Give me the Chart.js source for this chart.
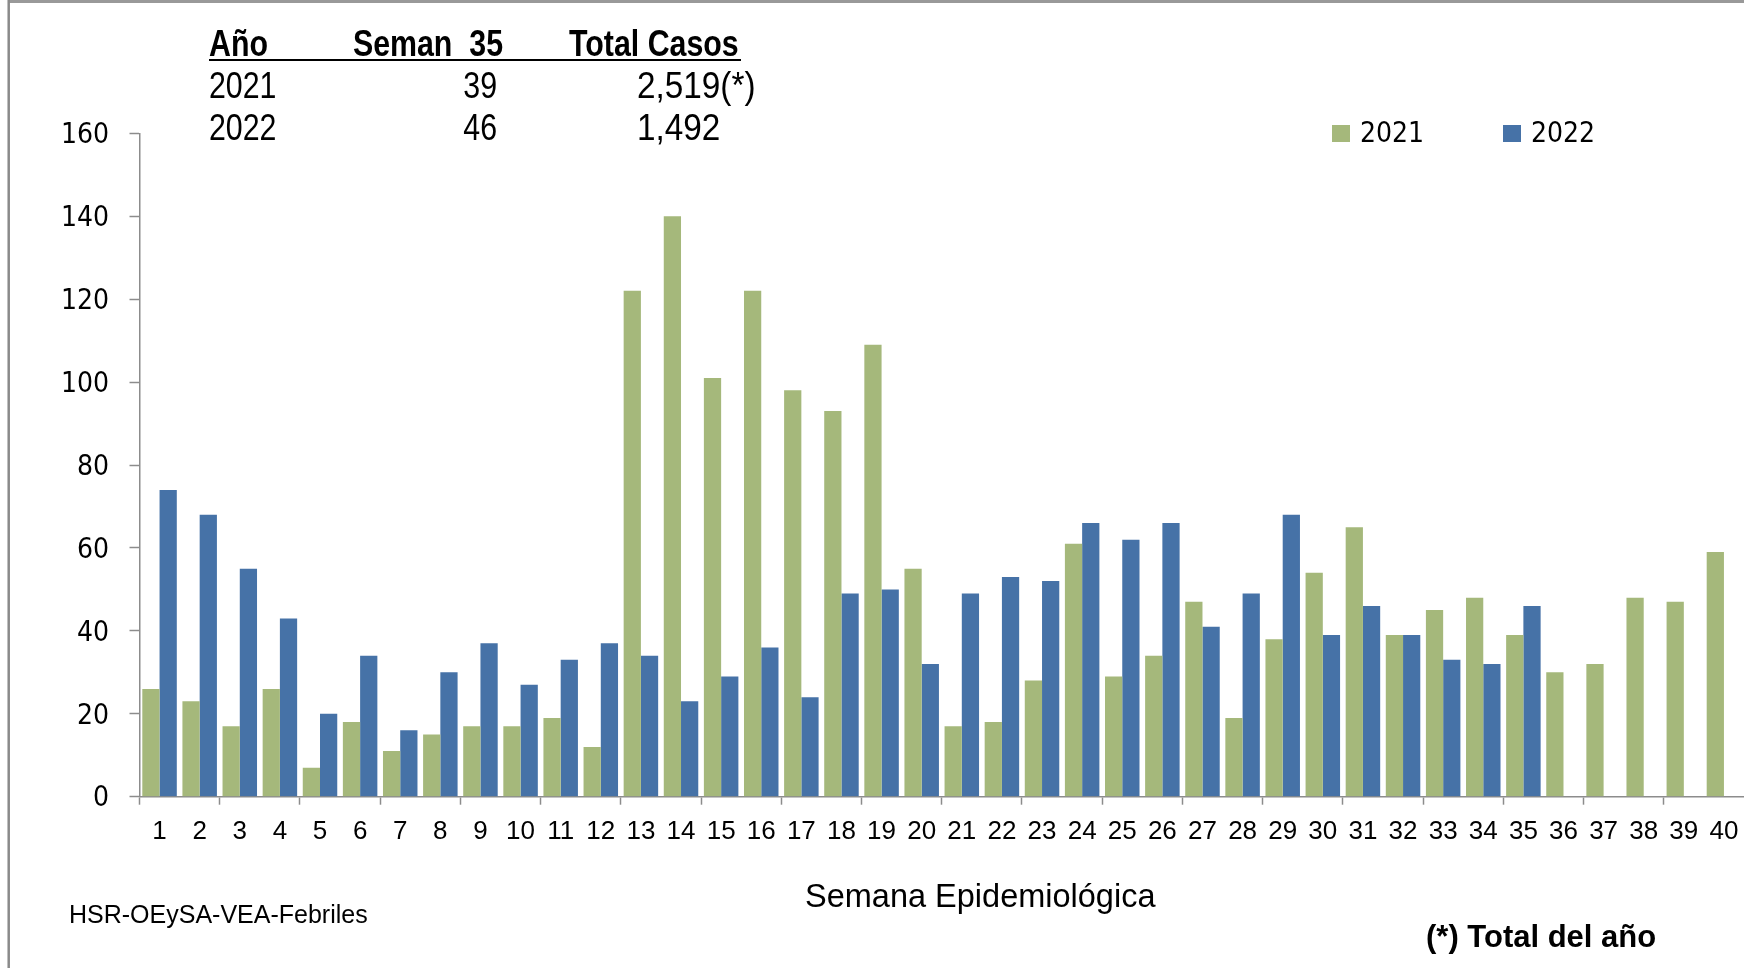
<!DOCTYPE html>
<html>
<head>
<meta charset="utf-8">
<script src="https://cdn.jsdelivr.net/npm/chart.js@4/dist/chart.umd.min.js"></script>
<style>
html,body{margin:0;padding:0;background:#fff;}
#wrap{width:1744px;height:968px;position:relative;overflow:hidden;}
canvas{display:block;}
</style>
</head>
<body>
<div id="wrap"><canvas id="c" width="1744" height="968"></canvas></div>
<script>
// ---- data ----
const weeks = ['1','2','3','4','5','6','7','8','9','10','11','12','13','14','15','16','17','18','19','20',
               '21','22','23','24','25','26','27','28','29','30','31','32','33','34','35','36','37','38','39','40'];
const cases2021 = [26,23,17,26,7,18,11,15,17,17,19,12,122,140,101,122,98,93,109,55,
                   17,18,28,61,29,34,47,19,38,54,65,39,45,48,39,30,32,48,47,59];
const cases2022 = [74,68,55,43,20,34,16,30,37,27,33,37,34,23,29,36,24,49,50,32,
                   49,53,52,66,62,66,41,49,68,39,46,39,33,32,46,null,null,null,null,null];
const seriesNames = ['2021','2022'];
const yMin = 0, yMax = 160, yStep = 20;
const tableHeader = ['Año','Seman  35','Total Casos'];
const tableYears = ['2021','2022'];
const tableWeek35 = ['39','46'];
const tableTotals = ['2,519(*)','1,492'];
const axisTitle = 'Semana Epidemiológica';
const sourceNote = 'HSR-OEySA-VEA-Febriles';
const footNote = '(*) Total del año';

const GREEN = '#A5B87B';
const BLUE = '#4672A7';
const AXIS = '#8c8c8c';

function condText(ctx, text, x, y, align, sx) {
  ctx.save();
  ctx.translate(x, y);
  ctx.scale(sx, 1);
  ctx.textAlign = align;
  ctx.fillText(text, 0, 0);
  ctx.restore();
}

const annot = {
  id: 'annot',
  beforeDraw(chart) {
    const ctx = chart.ctx;
    ctx.save();
    ctx.fillStyle = '#fff';
    ctx.fillRect(0, 0, chart.width, chart.height);
    ctx.strokeStyle = '#999999';
    ctx.lineWidth = 3;
    ctx.beginPath(); ctx.moveTo(8, 1.5); ctx.lineTo(1744, 1.5); ctx.stroke();
    ctx.strokeStyle = '#8a8a8a';
    ctx.lineWidth = 2.5;
    ctx.beginPath(); ctx.moveTo(8.7, 0); ctx.lineTo(8.7, 968); ctx.stroke();
    ctx.restore();
  },
  afterDraw(chart) {
    const ctx = chart.ctx;
    ctx.save();
    ctx.fillStyle = '#000';
    ctx.textBaseline = 'alphabetic';
    const SX = 0.82;
    // table header
    ctx.font = 'bold 37px "Liberation Sans", Arial, sans-serif';
    condText(ctx, tableHeader[0], 209, 56, 'left', SX);
    condText(ctx, tableHeader[1], 503, 56, 'right', SX);
    condText(ctx, tableHeader[2], 569, 56, 'left', SX);
    ctx.strokeStyle = '#000';
    ctx.lineWidth = 2;
    ctx.beginPath(); ctx.moveTo(209, 60); ctx.lineTo(741, 60); ctx.stroke();
    // table rows
    ctx.font = '37px "Liberation Sans", Arial, sans-serif';
    const rowBase = [98, 140];
    for (let i = 0; i < tableYears.length; i++) {
      condText(ctx, tableYears[i], 209, rowBase[i], 'left', SX);
      condText(ctx, tableWeek35[i], 497, rowBase[i], 'right', SX);
      condText(ctx, tableTotals[i], 637, rowBase[i], 'left', 0.9);
    }
    // legend
    ctx.font = '28px "DejaVu Sans Condensed", "DejaVu Sans", sans-serif';
    ctx.textBaseline = 'middle';
    const legX = [1332, 1503];
    const legCol = [GREEN, BLUE];
    for (let i = 0; i < 2; i++) {
      ctx.fillStyle = legCol[i];
      ctx.fillRect(legX[i], 125, 18, 17);
      ctx.fillStyle = '#000';
      ctx.textAlign = 'left';
      ctx.fillText(seriesNames[i], legX[i] + 28, 135);
    }
    // axis title
    ctx.textBaseline = 'alphabetic';
    ctx.font = '32.5px "Liberation Sans", Arial, sans-serif';
    ctx.fillText(axisTitle, 805, 907);
    // source
    ctx.font = '25px "Liberation Sans", Arial, sans-serif';
    ctx.fillText(sourceNote, 69, 923);
    // footnote
    ctx.font = 'bold 31px "Liberation Sans", Arial, sans-serif';
    ctx.fillText(footNote, 1426, 947);
    ctx.restore();
  }
};

new Chart(document.getElementById('c'), {
  type: 'bar',
  data: {
    labels: weeks,
    datasets: [
      { label: seriesNames[0], data: cases2021, backgroundColor: GREEN, borderWidth: 0 },
      { label: seriesNames[1], data: cases2022, backgroundColor: BLUE, borderWidth: 0 }
    ]
  },
  options: {
    responsive: false,
    animation: false,
    devicePixelRatio: 1,
    layout: { padding: { left: 0, top: 133.3, right: -3.5, bottom: 0 }, autoPadding: false },
    plugins: { legend: { display: false }, tooltip: { enabled: false } },
    datasets: { bar: { categoryPercentage: 0.86, barPercentage: 1 } },
    scales: {
      x: {
        grid: {
          display: true, offset: true, drawOnChartArea: false, drawTicks: true,
          tickLength: 8, tickWidth: 1.5,
          tickColor: (c) => (c.index !== undefined && c.index % 2 === 0) ? AXIS : 'rgba(0,0,0,0)'
        },
        border: { display: true, color: AXIS, width: 1.5 },
        ticks: {
          font: { family: '"Liberation Sans", sans-serif', size: 26 },
          color: '#000', padding: 11.5, maxRotation: 0, autoSkip: false
        },
        afterFit: (s) => { s.height = 171.3; s.paddingLeft = 0; s.paddingRight = 0; }
      },
      y: {
        min: yMin, max: yMax,
        ticks: {
          stepSize: yStep,
          font: { family: '"DejaVu Sans Condensed", "DejaVu Sans", sans-serif', size: 28 },
          color: '#000', padding: 20.5, labelOffset: 2.5
        },
        grid: { display: true, drawOnChartArea: false, drawTicks: true, tickLength: 10, tickWidth: 1.5, tickColor: AXIS },
        border: { display: true, color: AXIS, width: 1.5 },
        afterFit: (s) => { s.width = 139.5; s.paddingTop = 0; s.paddingBottom = 0; }
      }
    }
  },
  plugins: [annot]
});
</script>
</body>
</html>
